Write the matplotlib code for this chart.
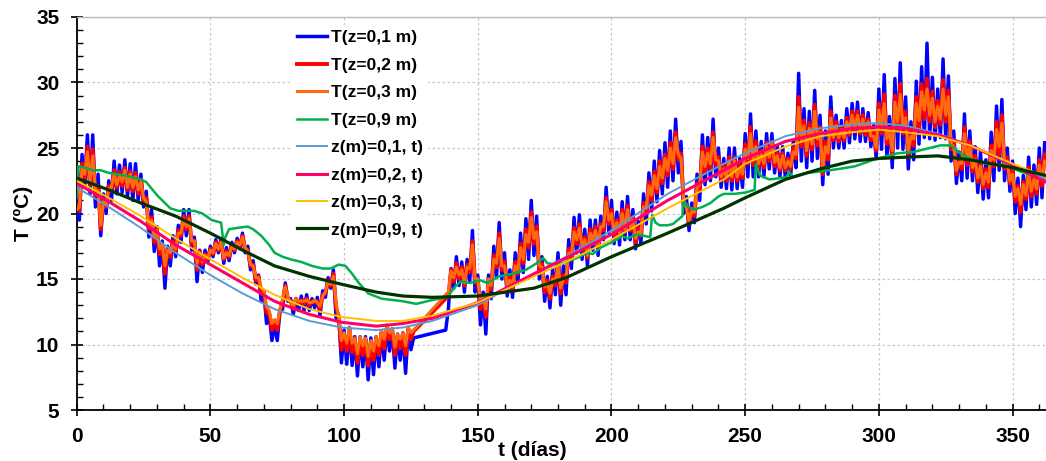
import matplotlib
matplotlib.use("Agg")
import matplotlib.pyplot as plt
from matplotlib.ticker import MultipleLocator

plt.rcParams['font.family'] = ['Liberation Sans', 'DejaVu Sans']
plt.rcParams['font.weight'] = 'bold'

# ---------------- measured data (one value per day, daily high / low alternating) ----------------
days_meas = list(range(0, 127)) + list(range(138, 363))

t01 = [21.3, 19.5, 24.5, 22.0, 26.0, 21.5, 26.0, 20.5, 23.0, 18.3,
       21.5, 20.0, 22.5, 21.0, 24.0, 21.5, 23.7, 21.6, 24.1, 21.3,
       23.8, 21.0, 23.8, 21.0, 23.0, 20.5, 21.7, 18.2, 20.3, 17.1,
       19.0, 16.0, 17.9, 14.3, 17.5, 16.0, 18.3, 16.7, 19.1, 17.8,
       20.3, 18.3, 20.3, 17.2, 18.2, 14.8, 17.2, 15.5, 17.2, 16.3,
       17.5, 16.7, 18.0, 17.0, 18.1, 16.2, 17.4, 16.4, 17.8, 17.0,
       18.1, 17.3, 18.5, 17.0, 17.5, 15.7, 16.4, 14.6, 15.3, 13.3,
       14.0, 11.6, 12.3, 10.3, 11.5, 10.3, 12.5, 12.7, 14.7, 13.3,
       13.5, 12.3, 13.5, 12.6, 13.7, 12.6, 13.8, 12.6, 13.5, 12.8,
       13.6, 12.2, 14.1, 13.6, 15.1, 14.3, 15.7, 12.0, 12.2, 8.6,
       11.1, 8.5, 11.3, 8.4, 10.6, 7.6, 10.6, 8.3, 10.6, 7.3,
       10.5, 7.7, 10.6, 8.3, 11.0, 8.8, 11.3, 9.5, 11.2, 8.2,
       10.8, 8.8, 10.9, 7.8, 11.2, 9.6, 10.5,
       11.1, 12.7,
       15.8, 14.3, 16.7, 14.5, 16.3, 14.0, 16.5, 14.8, 18.7, 14.0,
       15.3, 11.5, 14.0, 10.8, 15.3, 13.5, 17.5, 15.1, 19.3, 15.0,
       17.0, 13.7, 15.7, 13.6, 17.0, 14.7, 18.5, 15.5, 19.6, 16.5,
       21.0, 16.8, 19.8, 15.0, 16.7, 13.3, 15.2, 12.8, 15.8, 13.8,
       17.0, 13.0, 16.0, 13.8, 18.0, 15.8, 19.7, 17.0, 19.9, 16.5,
       18.8, 16.0, 19.5, 17.2, 19.5, 16.8, 19.8, 18.0, 22.0, 18.5,
       21.0, 17.7, 20.1, 17.6, 20.9, 18.0, 21.3, 18.0, 20.3, 17.3,
       19.4, 17.7, 21.5, 19.2, 23.1, 20.2, 24.0, 20.9, 24.8, 21.5,
       25.4, 22.0, 26.3, 22.5, 27.2, 23.1, 25.5, 20.0, 21.3, 18.7,
       20.8, 19.3, 23.0, 21.0, 26.0, 22.2, 25.8, 22.5, 27.2, 22.8,
       25.0, 22.0, 24.2, 21.9, 25.0, 21.8, 25.0, 21.9, 24.2, 22.0,
       26.1, 22.8, 27.6, 22.8, 26.3, 22.8, 25.5, 22.8, 26.1, 23.4,
       26.1, 23.1, 25.1, 22.8, 25.1, 22.8, 24.6, 22.9, 25.5, 23.5,
       30.7, 24.0, 28.0, 23.5, 27.8, 24.0, 29.4, 24.2, 27.5, 22.2,
       26.3, 23.0, 28.9, 25.0, 27.5, 25.0, 27.1, 25.0, 28.0, 25.4,
       28.4, 25.7, 28.5, 25.5, 28.0, 25.5, 27.7, 25.1, 26.7, 24.2,
       29.5, 24.9, 30.6, 24.3, 27.4, 23.5, 30.3, 25.0, 31.5, 24.9,
       28.9, 23.4, 27.0, 24.1, 30.1, 25.3, 31.2, 25.8, 33.0, 25.7,
       30.4, 25.6, 29.5, 25.8, 31.8, 25.7, 30.5, 24.0, 26.3, 22.3,
       24.7, 22.5, 27.6, 22.7, 26.3, 22.5, 25.1, 21.6, 24.7, 21.1,
       24.1, 21.2, 26.2, 22.5, 28.2, 23.3, 28.7, 22.5, 25.0, 21.7,
       24.0, 20.0, 22.7, 19.0, 22.9, 20.3, 24.3, 20.5, 23.7, 20.7,
       25.0, 21.2, 25.4]

t02 = [20.6, 20.2, 23.8, 22.7, 25.1, 22.2, 24.9, 21.4, 22.1, 18.8,
       21.1, 20.5, 22.1, 21.7, 23.3, 22.0, 23.2, 22.1, 23.5, 21.8,
       23.2, 21.7, 23.1, 21.5, 22.6, 21.0, 21.2, 18.8, 19.7, 17.8,
       18.8, 16.9, 17.6, 15.4, 17.3, 16.7, 17.9, 17.1, 18.7, 18.3,
       19.8, 18.8, 19.8, 17.7, 17.9, 15.7, 17.1, 16.1, 16.9, 16.5,
       17.3, 16.9, 17.8, 17.2, 17.9, 16.5, 17.1, 16.7, 17.6, 17.2,
       17.9, 17.5, 18.3, 17.3, 17.2, 16.0, 16.1, 14.9, 15.2, 13.9,
       14.0, 12.4, 12.4, 11.1, 11.7, 11.1, 12.6, 13.2, 14.5, 13.5,
       13.3, 12.7, 13.5, 13.1, 13.4, 13.1, 13.5, 13.0, 13.3, 13.2,
       13.3, 12.7, 13.8, 13.9, 14.9, 14.5, 15.4, 12.8, 12.1, 9.6,
       10.8, 9.5, 11.1, 9.4, 10.4, 8.6, 10.4, 9.2, 10.4, 8.4,
       10.2, 8.8, 10.5, 9.2, 10.9, 9.7, 11.2, 10.4, 11.1, 9.2,
       10.6, 9.7, 10.7, 9.2, 11.2, 10.4, 11.0,
       13.5, 13.6,
       15.7, 14.8, 16.2, 15.0, 15.9, 14.5, 16.1, 15.5, 17.9, 14.7,
       15.0, 12.7, 13.7, 12.1, 15.0, 14.2, 16.8, 15.9, 18.5, 15.7,
       16.3, 14.3, 15.2, 14.1, 16.3, 15.4, 17.7, 16.2, 18.8, 17.4,
       20.1, 17.7, 19.0, 15.7, 16.2, 14.0, 14.9, 13.5, 15.2, 14.5,
       16.3, 13.9, 15.3, 14.7, 17.3, 16.5, 18.9, 17.7, 19.2, 17.2,
       18.2, 16.6, 18.8, 17.8, 19.0, 17.3, 19.2, 18.7, 21.2, 19.2,
       20.3, 18.3, 19.5, 18.2, 20.3, 18.6, 20.6, 18.7, 19.7, 17.8,
       18.9, 18.3, 20.8, 20.0, 22.4, 21.0, 23.2, 21.6, 24.0, 22.3,
       24.5, 22.9, 25.4, 23.4, 26.2, 24.1, 24.6, 20.7, 20.7, 19.2,
       20.4, 19.8, 22.3, 21.8, 25.1, 23.1, 25.0, 23.4, 26.2, 23.7,
       24.3, 22.6, 23.7, 22.5, 24.3, 22.5, 24.3, 22.5, 23.7, 22.7,
       25.3, 23.8, 26.6, 23.7, 25.5, 23.5, 24.8, 23.5, 25.4, 24.0,
       25.5, 23.6, 24.6, 23.3, 24.6, 23.3, 24.2, 23.4, 25.0, 24.2,
       28.9, 25.1, 27.1, 24.4, 26.9, 24.9, 28.3, 25.2, 26.6, 23.0,
       25.5, 24.1, 27.8, 25.6, 27.0, 25.5, 26.6, 25.6, 27.3, 26.0,
       27.8, 26.3, 27.8, 26.1, 27.5, 26.0, 27.2, 25.6, 26.2, 24.8,
       28.4, 26.1, 29.1, 25.3, 26.5, 24.4, 29.0, 26.4, 29.9, 26.1,
       27.8, 24.3, 26.2, 25.2, 28.9, 26.5, 29.9, 27.2, 30.3, 27.0,
       29.3, 26.6, 28.6, 26.8, 30.2, 27.0, 29.4, 24.9, 25.5, 23.0,
       24.2, 23.4, 26.6, 23.7, 25.5, 23.2, 24.4, 22.4, 23.9, 21.9,
       23.4, 22.0, 25.2, 23.6, 27.0, 24.5, 27.5, 23.4, 24.3, 22.3,
       23.3, 20.9, 22.1, 20.1, 22.4, 21.1, 23.5, 21.3, 22.9, 21.5,
       24.1, 22.1, 24.5]

t03 = [20.3, 20.5, 23.5, 23.0, 24.7, 22.5, 24.4, 21.8, 21.7, 19.1,
       20.9, 20.7, 21.9, 22.0, 23.0, 22.2, 22.9, 22.4, 23.3, 22.0,
       23.0, 22.0, 22.8, 21.8, 22.4, 21.2, 20.9, 19.0, 19.5, 18.2,
       18.7, 17.3, 17.6, 16.0, 17.2, 17.0, 17.7, 17.3, 18.5, 18.5,
       19.6, 19.0, 19.6, 17.9, 17.9, 16.2, 17.0, 16.3, 16.8, 16.6,
       17.2, 17.0, 17.7, 17.3, 17.8, 16.6, 17.0, 16.8, 17.5, 17.3,
       17.8, 17.6, 18.2, 17.4, 17.1, 16.1, 16.0, 15.1, 15.1, 14.3,
       14.1, 12.9, 12.6, 11.6, 11.9, 11.6, 12.7, 13.5, 14.4, 13.6,
       13.2, 12.9, 13.5, 13.3, 13.3, 13.3, 13.4, 13.2, 13.2, 13.4,
       13.2, 12.9, 13.7, 14.0, 14.8, 14.6, 15.2, 13.2, 12.1, 10.3,
       10.9, 10.1, 11.3, 10.1, 10.5, 9.3, 10.6, 9.9, 10.5, 9.1,
       10.3, 9.5, 10.6, 9.9, 11.0, 10.4, 11.5, 10.9, 11.2, 9.8,
       10.8, 10.4, 10.9, 9.9, 11.3, 10.9, 11.1,
       13.8, 14.0,
       15.6, 15.1, 15.9, 15.3, 15.7, 14.7, 15.9, 15.8, 17.6, 15.0,
       15.0, 13.2, 13.7, 12.7, 15.0, 14.5, 16.5, 16.2, 18.1, 16.0,
       16.0, 14.5, 14.9, 14.4, 16.0, 15.7, 17.4, 16.5, 18.4, 17.8,
       19.7, 18.1, 18.6, 16.0, 15.9, 14.4, 14.7, 13.9, 15.0, 14.8,
       16.0, 14.3, 15.0, 15.1, 17.0, 16.8, 18.6, 18.0, 18.9, 17.5,
       18.0, 16.8, 18.5, 18.0, 18.7, 17.6, 19.0, 19.0, 20.9, 19.5,
       20.0, 18.5, 19.3, 18.5, 20.0, 18.8, 20.3, 19.0, 19.5, 18.1,
       18.6, 18.5, 20.5, 20.4, 22.1, 21.4, 22.9, 21.9, 23.6, 22.7,
       24.2, 23.3, 25.0, 23.8, 25.8, 24.5, 24.2, 21.0, 20.5, 19.4,
       20.2, 20.1, 22.0, 22.2, 24.7, 23.6, 24.6, 23.8, 25.8, 24.1,
       24.0, 22.8, 23.4, 22.8, 24.0, 22.8, 24.0, 22.8, 23.4, 23.0,
       24.9, 24.2, 26.1, 24.1, 25.1, 23.8, 24.5, 23.8, 25.1, 24.3,
       25.3, 23.9, 24.4, 23.5, 24.4, 23.5, 24.0, 23.6, 24.7, 24.5,
       28.1, 25.6, 26.7, 24.8, 26.5, 25.3, 27.8, 25.7, 26.2, 23.4,
       25.1, 24.6, 27.3, 25.8, 26.7, 25.8, 26.4, 25.8, 27.0, 26.3,
       27.5, 26.5, 27.5, 26.3, 27.2, 26.3, 27.0, 25.9, 25.9, 25.0,
       27.9, 26.6, 28.4, 25.7, 26.2, 24.8, 28.5, 27.0, 29.1, 26.6,
       27.3, 24.8, 25.9, 25.7, 28.4, 27.1, 29.3, 27.9, 29.5, 27.5,
       28.8, 27.0, 28.2, 27.2, 29.5, 27.5, 28.9, 25.3, 25.1, 23.3,
       23.9, 23.8, 26.1, 24.2, 25.1, 23.5, 24.1, 22.7, 23.6, 22.2,
       23.1, 22.4, 24.8, 24.1, 26.4, 25.1, 26.9, 23.8, 24.0, 22.5,
       23.0, 21.3, 21.9, 20.7, 22.2, 21.4, 23.1, 21.7, 22.6, 21.9,
       23.7, 22.6, 24.0]

days_09 = [0, 0.6, 3, 6, 9, 12, 18, 24, 26, 28, 30.5, 33, 35, 38, 44, 47, 50.5, 54, 55,
           55.6, 57, 60, 64, 66, 69, 72, 74, 77, 80, 84, 88, 92, 95, 98, 100.5, 103,
           105.5, 109, 114, 122, 127, 133, 138.5, 141.5, 143.5, 147, 151, 153.5, 158,
           163, 168, 172, 174.5, 176, 180, 183, 187, 191, 193, 196, 201, 204, 206,
           209.5, 212, 214.5, 215.2, 216.5, 218, 221, 223, 226.5, 227, 228.5, 231,
           234, 237, 240, 242, 246, 250, 253.5, 254, 255.5, 259, 263, 265.5, 266.5,
           267.5, 273, 278, 285, 291, 298, 307, 313, 319, 323, 327, 331, 335, 340,
           347, 353, 359, 362.5]
t09 = [21.2, 23.6, 23.5, 23.3, 23.3, 23.1, 22.9, 22.6, 22.4, 21.9, 21.3, 20.8, 20.4,
       20.2, 20.2, 20.0, 19.5, 19.3, 17.6, 18.2, 18.8, 18.9, 19.0, 18.8, 18.3, 17.6,
       17.0, 16.7, 16.5, 16.3, 16.0, 15.8, 15.8, 16.1, 16.0, 15.4, 14.7, 13.9, 13.5,
       13.3, 13.1, 13.4, 13.6, 14.4, 14.8, 14.7, 14.9, 14.7, 15.2, 15.4, 15.7, 16.2,
       16.6, 16.2, 16.1, 16.3, 16.6, 17.0, 16.9, 17.4, 17.9, 18.3, 18.1, 18.4, 18.3,
       18.2, 19.9, 19.3, 19.1, 19.1, 19.2, 19.8, 21.0, 20.5, 20.3, 20.5, 20.8, 21.3,
       21.5, 21.5, 21.6, 21.8, 23.8, 22.9, 22.6, 22.7, 22.8, 23.2, 22.8, 23.1, 23.2,
       23.4, 23.6, 24.1, 24.6, 24.7, 25.0, 25.2, 25.2, 24.5, 24.1, 23.8, 23.7, 23.2,
       22.8, 22.6]

# ---------------- model curves ----------------
days_mod = [0, 12, 24, 37, 50, 62, 74, 87, 99, 112, 122, 133, 150, 171, 183, 200, 221,
            242, 250, 265, 278, 290, 300, 310, 322, 334, 350, 362.5]
m01 = [22.0, 20.5, 18.9, 17.0, 15.3, 13.9, 12.7, 11.8, 11.3, 11.1, 11.3, 11.8, 13.0, 15.4,
       16.7, 18.7, 21.5, 23.8, 24.6, 25.9, 26.5, 26.8, 26.9, 26.7, 26.1, 25.2, 23.8, 22.6]
m02 = [22.3, 20.9, 19.4, 17.6, 16.1, 14.7, 13.3, 12.3, 11.7, 11.4, 11.6, 12.0, 13.2, 15.4,
       16.6, 18.4, 21.0, 23.3, 24.2, 25.5, 26.1, 26.5, 26.6, 26.5, 26.0, 25.2, 23.7, 22.4]
m03 = [22.5, 21.2, 19.8, 18.1, 16.5, 15.1, 13.8, 12.7, 12.1, 11.8, 11.8, 12.2, 13.2, 15.2,
       16.3, 18.0, 20.4, 22.6, 23.8, 25.1, 25.9, 26.2, 26.4, 26.2, 25.9, 25.2, 23.8, 22.8]
m09 = [22.7, 21.8, 20.8, 19.8, 18.5, 17.2, 16.0, 15.2, 14.6, 14.0, 13.7, 13.6, 13.7, 14.3,
       15.1, 16.7, 18.5, 20.4, 21.2, 22.6, 23.4, 24.0, 24.2, 24.3, 24.4, 24.1, 23.5, 22.9]

labels = ["T(z=0,1 m)", "T(z=0,2 m)", "T(z=0,3 m)", "T(z=0,9 m)",
          "z(m)=0,1, t)", "z(m)=0,2, t)", "z(m)=0,3, t)", "z(m)=0,9, t)"]

fig = plt.figure(figsize=(10.46, 4.61), dpi=100)
ax = fig.add_axes([76.7 / 1046, 1 - 410 / 461, 1 - 76.7 / 1046, (410 - 17) / 461])

ax.plot(days_meas, t01, color='#0000FF', lw=2.5, label=labels[0], zorder=3)
ax.plot(days_meas, t02, color='#FF0000', lw=2.8, label=labels[1], zorder=4)
ax.plot(days_meas, t03, color='#FF6A10', lw=2.2, label=labels[2], zorder=5)
ax.plot(days_09, t09, color='#00B050', lw=1.8, label=labels[3], zorder=6)
ax.plot(days_mod, m01, color='#5B9BD5', lw=1.4, label=labels[4], zorder=7)
ax.plot(days_mod, m02, color='#FF0066', lw=2.2, label=labels[5], zorder=8)
ax.plot(days_mod, m03, color='#FFC000', lw=1.4, label=labels[6], zorder=9)
ax.plot(days_mod, m09, color='#003300', lw=2.3, label=labels[7], zorder=10)

ax.set_xlim(0, 362.5)
ax.set_ylim(5, 35)
ax.xaxis.set_major_locator(MultipleLocator(50))
ax.xaxis.set_minor_locator(MultipleLocator(10))
ax.yaxis.set_major_locator(MultipleLocator(5))
ax.yaxis.set_minor_locator(MultipleLocator(1))
ax.grid(True, which='major', color='#C8C8C8', linestyle=(0, (2, 2)), linewidth=0.9)
ax.set_axisbelow(True)

ax.tick_params(which='major', direction='inout', length=9, width=1.2, labelsize=15)
ax.tick_params(axis='x', which='major', pad=8)
ax.tick_params(axis='y', which='major', pad=8)
ax.tick_params(which='minor', direction='in', length=4, width=1.0)
for lab in ax.get_xticklabels() + ax.get_yticklabels():
    lab.set_fontweight('bold')

ax.spines['right'].set_visible(False)
ax.spines['top'].set_color('#BBBBBB')
ax.spines['top'].set_linewidth(1.0)
ax.spines['left'].set_linewidth(1.3)
ax.spines['bottom'].set_linewidth(1.3)

ax.set_xlabel('t (días)', fontsize=15, fontweight='bold')
ax.set_ylabel('T (ºC)', fontsize=15, fontweight='bold')
ax.xaxis.set_label_coords(0.47, -0.08)
ax.yaxis.set_label_coords(-0.045, 0.5)

leg = ax.legend(loc='upper left', bbox_to_anchor=(0.222, 0.98), borderaxespad=0,
                prop={'weight': 'bold', 'size': 12.5},
                handlelength=1.75, handletextpad=0.2, labelspacing=0.71,
                frameon=True, fancybox=False, framealpha=1.0, borderpad=0.3)
leg.get_frame().set_edgecolor('none')
leg.get_frame().set_facecolor('white')
leg.set_zorder(20)

fig.savefig('out.png', dpi=100)
